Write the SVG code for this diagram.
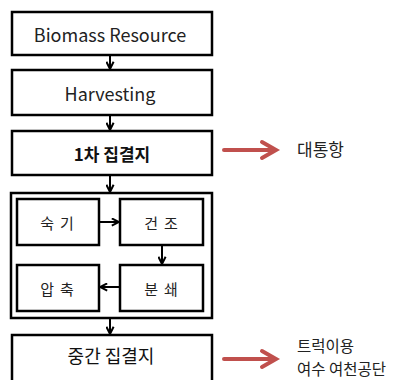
<svg xmlns="http://www.w3.org/2000/svg" width="417" height="380" viewBox="0 0 417 380">
<defs>
<style>
.box{fill:#fff;stroke:#000;stroke-width:2.5}
.t{font-family:"Noto Sans CJK KR","Noto Sans",sans-serif;font-size:18px;fill:#222;text-anchor:middle;dominant-baseline:central}
.tk{font-family:"Noto Sans CJK KR",sans-serif;font-size:15px;fill:#222;text-anchor:middle;dominant-baseline:central;letter-spacing:6px}
.c{fill:none;stroke:#000;stroke-width:2}
.r{fill:none;stroke:#C0504D;stroke-width:4;stroke-linecap:round}
.rl{font-family:"Noto Sans CJK KR",sans-serif;font-size:17px;fill:#222}
.rs{font-family:"Noto Sans CJK KR",sans-serif;font-size:15.5px;fill:#222}
</style>
<marker id="ah" viewBox="0 0 10 10" refX="9" refY="5" markerWidth="9" markerHeight="9" markerUnits="userSpaceOnUse" orient="auto">
<path d="M1,1 L9,5 L1,9" fill="none" stroke="#000" stroke-width="2.2"/>
</marker>
</defs>
<g id="n-biomass"><rect class="box" x="12" y="12" width="200" height="43"/><text class="t" x="110" y="34">Biomass Resource</text></g>
<g id="n-harvest"><rect class="box" x="12" y="70" width="200" height="45"/><text class="t" x="110" y="93">Harvesting</text></g>
<g id="n-first"><rect class="box" x="12" y="131" width="200" height="44"/><text class="t" x="112" y="153" style="font-weight:bold;fill:#111;font-size:17px">1차 집결지</text></g>
<g id="n-process"><rect class="box" x="11" y="193" width="201" height="125"/></g>
<g id="n-ripen"><rect class="box" x="17" y="199" width="82" height="46"/><text class="tk" x="60" y="222">숙기</text></g>
<g id="n-dry"><rect class="box" x="120" y="199" width="83" height="46"/><text class="tk" x="164" y="222">건조</text></g>
<g id="n-crush"><rect class="box" x="120" y="265" width="83" height="46"/><text class="tk" x="164" y="288">분쇄</text></g>
<g id="n-press"><rect class="box" x="17" y="265" width="82" height="46"/><text class="tk" x="60" y="288">압축</text></g>
<g id="n-mid"><rect class="box" x="12" y="335" width="200" height="50"/><text class="t" x="111" y="355" style="fill:#111">중간 집결지</text></g>
<g id="connectors">
<line class="c" x1="110" y1="55" x2="110" y2="69" marker-end="url(#ah)"/>
<line class="c" x1="110" y1="115" x2="110" y2="130" marker-end="url(#ah)"/>
<line class="c" x1="110" y1="175" x2="110" y2="192" marker-end="url(#ah)"/>
<line class="c" x1="99" y1="222" x2="119" y2="222" marker-end="url(#ah)"/>
<line class="c" x1="162" y1="245" x2="162" y2="264" marker-end="url(#ah)"/>
<line class="c" x1="120" y1="287" x2="100" y2="287" marker-end="url(#ah)"/>
<line class="c" x1="110" y1="318" x2="110" y2="334" marker-end="url(#ah)"/>
<path class="r" d="M224,150 H275 M262,142 L276,150 L262,158"/>
<path class="r" d="M224,359 H275 M262,351 L276,359 L262,367"/>
</g>
<g id="n-port"><text class="rl" x="297" y="156">대통항</text></g>
<g id="n-truck"><text class="rs" x="297" y="352">트럭이용</text><text class="rs" x="297" y="375">여수 여천공단</text></g>
</svg>
